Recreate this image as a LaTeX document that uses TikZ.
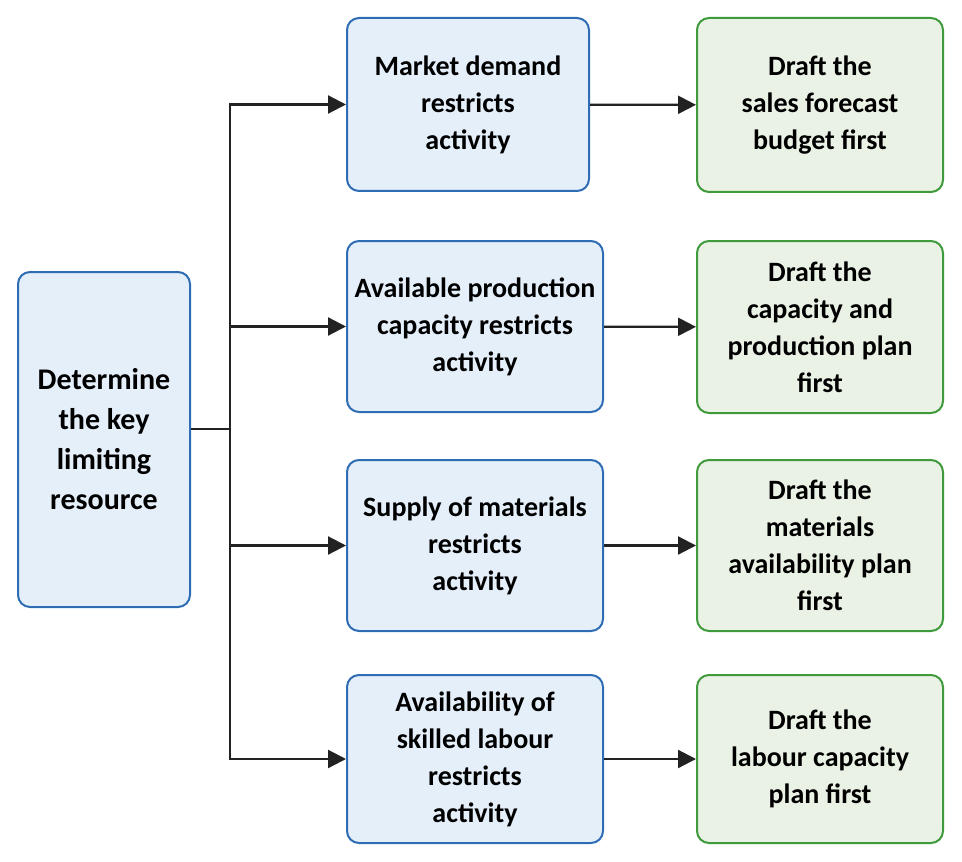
\documentclass[tikz,border=0pt]{standalone}
\usepackage{fontspec}
\setmainfont{Carlito}
\usetikzlibrary{arrows.meta}
\definecolor{causeblue}{HTML}{2E6DB4}
\definecolor{causefill}{HTML}{E5EFFA}
\definecolor{draftgreen}{HTML}{3E9A3A}
\definecolor{draftfill}{HTML}{EAF2E6}
\definecolor{linkgray}{HTML}{222222}

\begin{document}
\begin{tikzpicture}[x=0.5pt, y=-0.5pt,
		causebox/.style={draw=causeblue, fill=causefill, line width=1pt, rounded corners=6pt,
			align=center, inner sep=0pt, font=\fontsize{14}{18.5}\selectfont\bfseries},
		draftbox/.style={causebox, draw=draftgreen, fill=draftfill},
		linkline/.style={draw=linkgray, line width=1.1pt},
		linkarrow/.style={linkline, -{Triangle[length=9pt, width=9pt]}}]
			%%%%% START %%%%%
			
			\useasboundingbox (0, 0) rectangle (962, 861);
			
			\node[causebox, minimum width=86pt, minimum height=167.5pt,
				font=\fontsize{15}{20}\selectfont\bfseries] (root) at (104, 439.5)
				{Determine\\the key\\limiting\\resource};
			
			\node[causebox, minimum width=121pt, minimum height=86.5pt] (demand) at (468, 104.5)
				{Market demand\\restricts\\activity};
			\node[causebox, minimum width=128pt, minimum height=85.5pt] (capacity) at (475, 326.5)
				{Available production\\capacity restricts\\activity};
			\node[causebox, minimum width=128pt, minimum height=85.5pt] (materials) at (475, 545.5)
				{Supply of materials\\restricts\\activity};
			\node[causebox, minimum width=128pt, minimum height=84pt] (labour) at (475, 759)
				{Availability of\\skilled labour\\restricts\\activity};
			
			\node[draftbox, minimum width=123pt, minimum height=87pt] (sales) at (820, 105)
				{Draft the\\sales forecast\\budget first};
			\node[draftbox, minimum width=123pt, minimum height=86pt] (production) at (820, 327)
				{Draft the\\capacity and\\production plan\\first};
			\node[draftbox, minimum width=123pt, minimum height=85.5pt] (availability) at (820, 545.5)
				{Draft the\\materials\\availability plan\\first};
			\node[draftbox, minimum width=123pt, minimum height=84pt] (labourplan) at (820, 759)
				{Draft the\\labour capacity\\plan first};
			
			\coordinate (split) at (230, 429);
			\draw[linkline] (root.east |- split) -- (split);
			\foreach \cause in {demand, capacity, materials, labour}
				\draw[linkarrow] (split) |- (\cause.west);
			
			\draw[linkarrow] (demand) -- (sales);
			\draw[linkarrow] (capacity) -- (production);
			\draw[linkarrow] (materials) -- (availability);
			\draw[linkarrow] (labour) -- (labourplan);
			
			%%%%% END %%%%%
		\end{tikzpicture}
\end{document}
